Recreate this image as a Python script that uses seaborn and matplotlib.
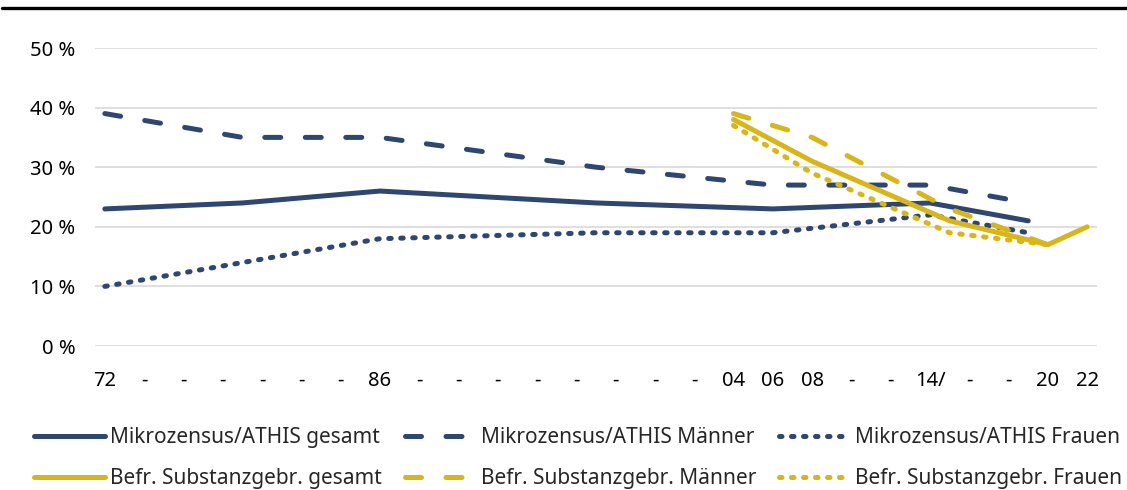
import pandas as pd
import matplotlib.pyplot as plt
import seaborn as sns
from matplotlib.lines import Line2D

# Mikrozensus / ATHIS survey years and shares (%)
mz_years = [1972, 1979, 1986, 1997, 2006, 2014, 2019]
mz_gesamt = [23, 24, 26, 24, 23, 24, 21]
mz_maenner = [39, 35, 35, 30, 27, 27, 24]
mz_frauen = [10, 14, 18, 19, 19, 22, 19]

# Befragung zu Substanzgebrauch
sg_years = [2004, 2008, 2015, 2020, 2022]
sg_gesamt = [38, 31, 21, 17, 20]
sg_maenner = [39, 35, 23, 17, None]
sg_frauen = [37, 29, 19, 17, None]

tick_years = list(range(1972, 2023, 2))
tick_labels = ['72', '-', '-', '-', '-', '-', '-', '86',
               '-', '-', '-', '-', '-', '-', '-', '-',
               '04', '06', '08', '-', '-', '14/', '-', '-', '20', '22']

navy = '#2F4670'
gold = '#D8B619'

sns.set_style('white')
plt.rcParams['font.family'] = ['Noto Sans', 'DejaVu Sans']

mz = pd.DataFrame({'jahr': mz_years, 'gesamt': mz_gesamt,
                   'maenner': mz_maenner, 'frauen': mz_frauen})
sg = pd.DataFrame({'jahr': sg_years, 'gesamt': sg_gesamt,
                   'maenner': sg_maenner, 'frauen': sg_frauen})

fig = plt.figure(figsize=(11.27, 4.90), dpi=100)
ax = fig.add_axes([95 / 1127, 1 - 346 / 490, (1097 - 95) / 1127, (346 - 48) / 490])

lw = 3.6
solid = '-'
dashed = (0, (3.2, 4.9))
dotted = (0, (0.5, 1.9))

series = [
    (mz, 'gesamt', navy, solid, 'Mikrozensus/ATHIS gesamt'),
    (mz, 'maenner', navy, dashed, 'Mikrozensus/ATHIS Männer'),
    (mz, 'frauen', navy, dotted, 'Mikrozensus/ATHIS Frauen'),
    (sg, 'gesamt', gold, solid, 'Befr. Substanzgebr. gesamt'),
    (sg, 'maenner', gold, dashed, 'Befr. Substanzgebr. Männer'),
    (sg, 'frauen', gold, dotted, 'Befr. Substanzgebr. Frauen'),
]
for df, col, c, ls, lab in series:
    d = df.dropna(subset=[col])
    sns.lineplot(data=d, x='jahr', y=col, ax=ax, color=c, linewidth=lw,
                 linestyle=ls, dash_capstyle='round', solid_capstyle='round',
                 solid_joinstyle='round', label=lab, estimator=None)

ax.set_xlim(1971.5, 2022.5)
ax.set_ylim(0, 50)
ax.set_yticks([0, 10, 20, 30, 40, 50])
ax.set_yticklabels([f'{v} %' for v in [0, 10, 20, 30, 40, 50]])
ax.set_xticks(tick_years)
ax.set_xticklabels(tick_labels)
ax.set_xlabel('')
ax.set_ylabel('')
ax.grid(axis='y', color='#D9D9D9', linewidth=1.2)
ax.set_axisbelow(True)
for s in ax.spines.values():
    s.set_visible(False)
ax.tick_params(axis='both', length=0, labelsize=14.5, colors='#000000')
ax.tick_params(axis='y', pad=14)
ax.tick_params(axis='x', pad=18)

handles, labels = ax.get_legend_handles_labels()
ax.get_legend().remove()
order = [0, 3, 1, 4, 2, 5]
fig.legend([handles[i] for i in order], [labels[i] for i in order],
           ncol=3, loc='center', bbox_to_anchor=(578 / 1127, 1 - 458 / 490),
           frameon=False, fontsize=15, handlelength=3.4, handletextpad=0.25,
           columnspacing=1.1, labelspacing=0.95)

fig.add_artist(Line2D([0.002, 1.0], [1 - 8 / 490, 1 - 8 / 490],
                      transform=fig.transFigure, color='black', linewidth=2.4))

fig.savefig('out.png', dpi=100)
